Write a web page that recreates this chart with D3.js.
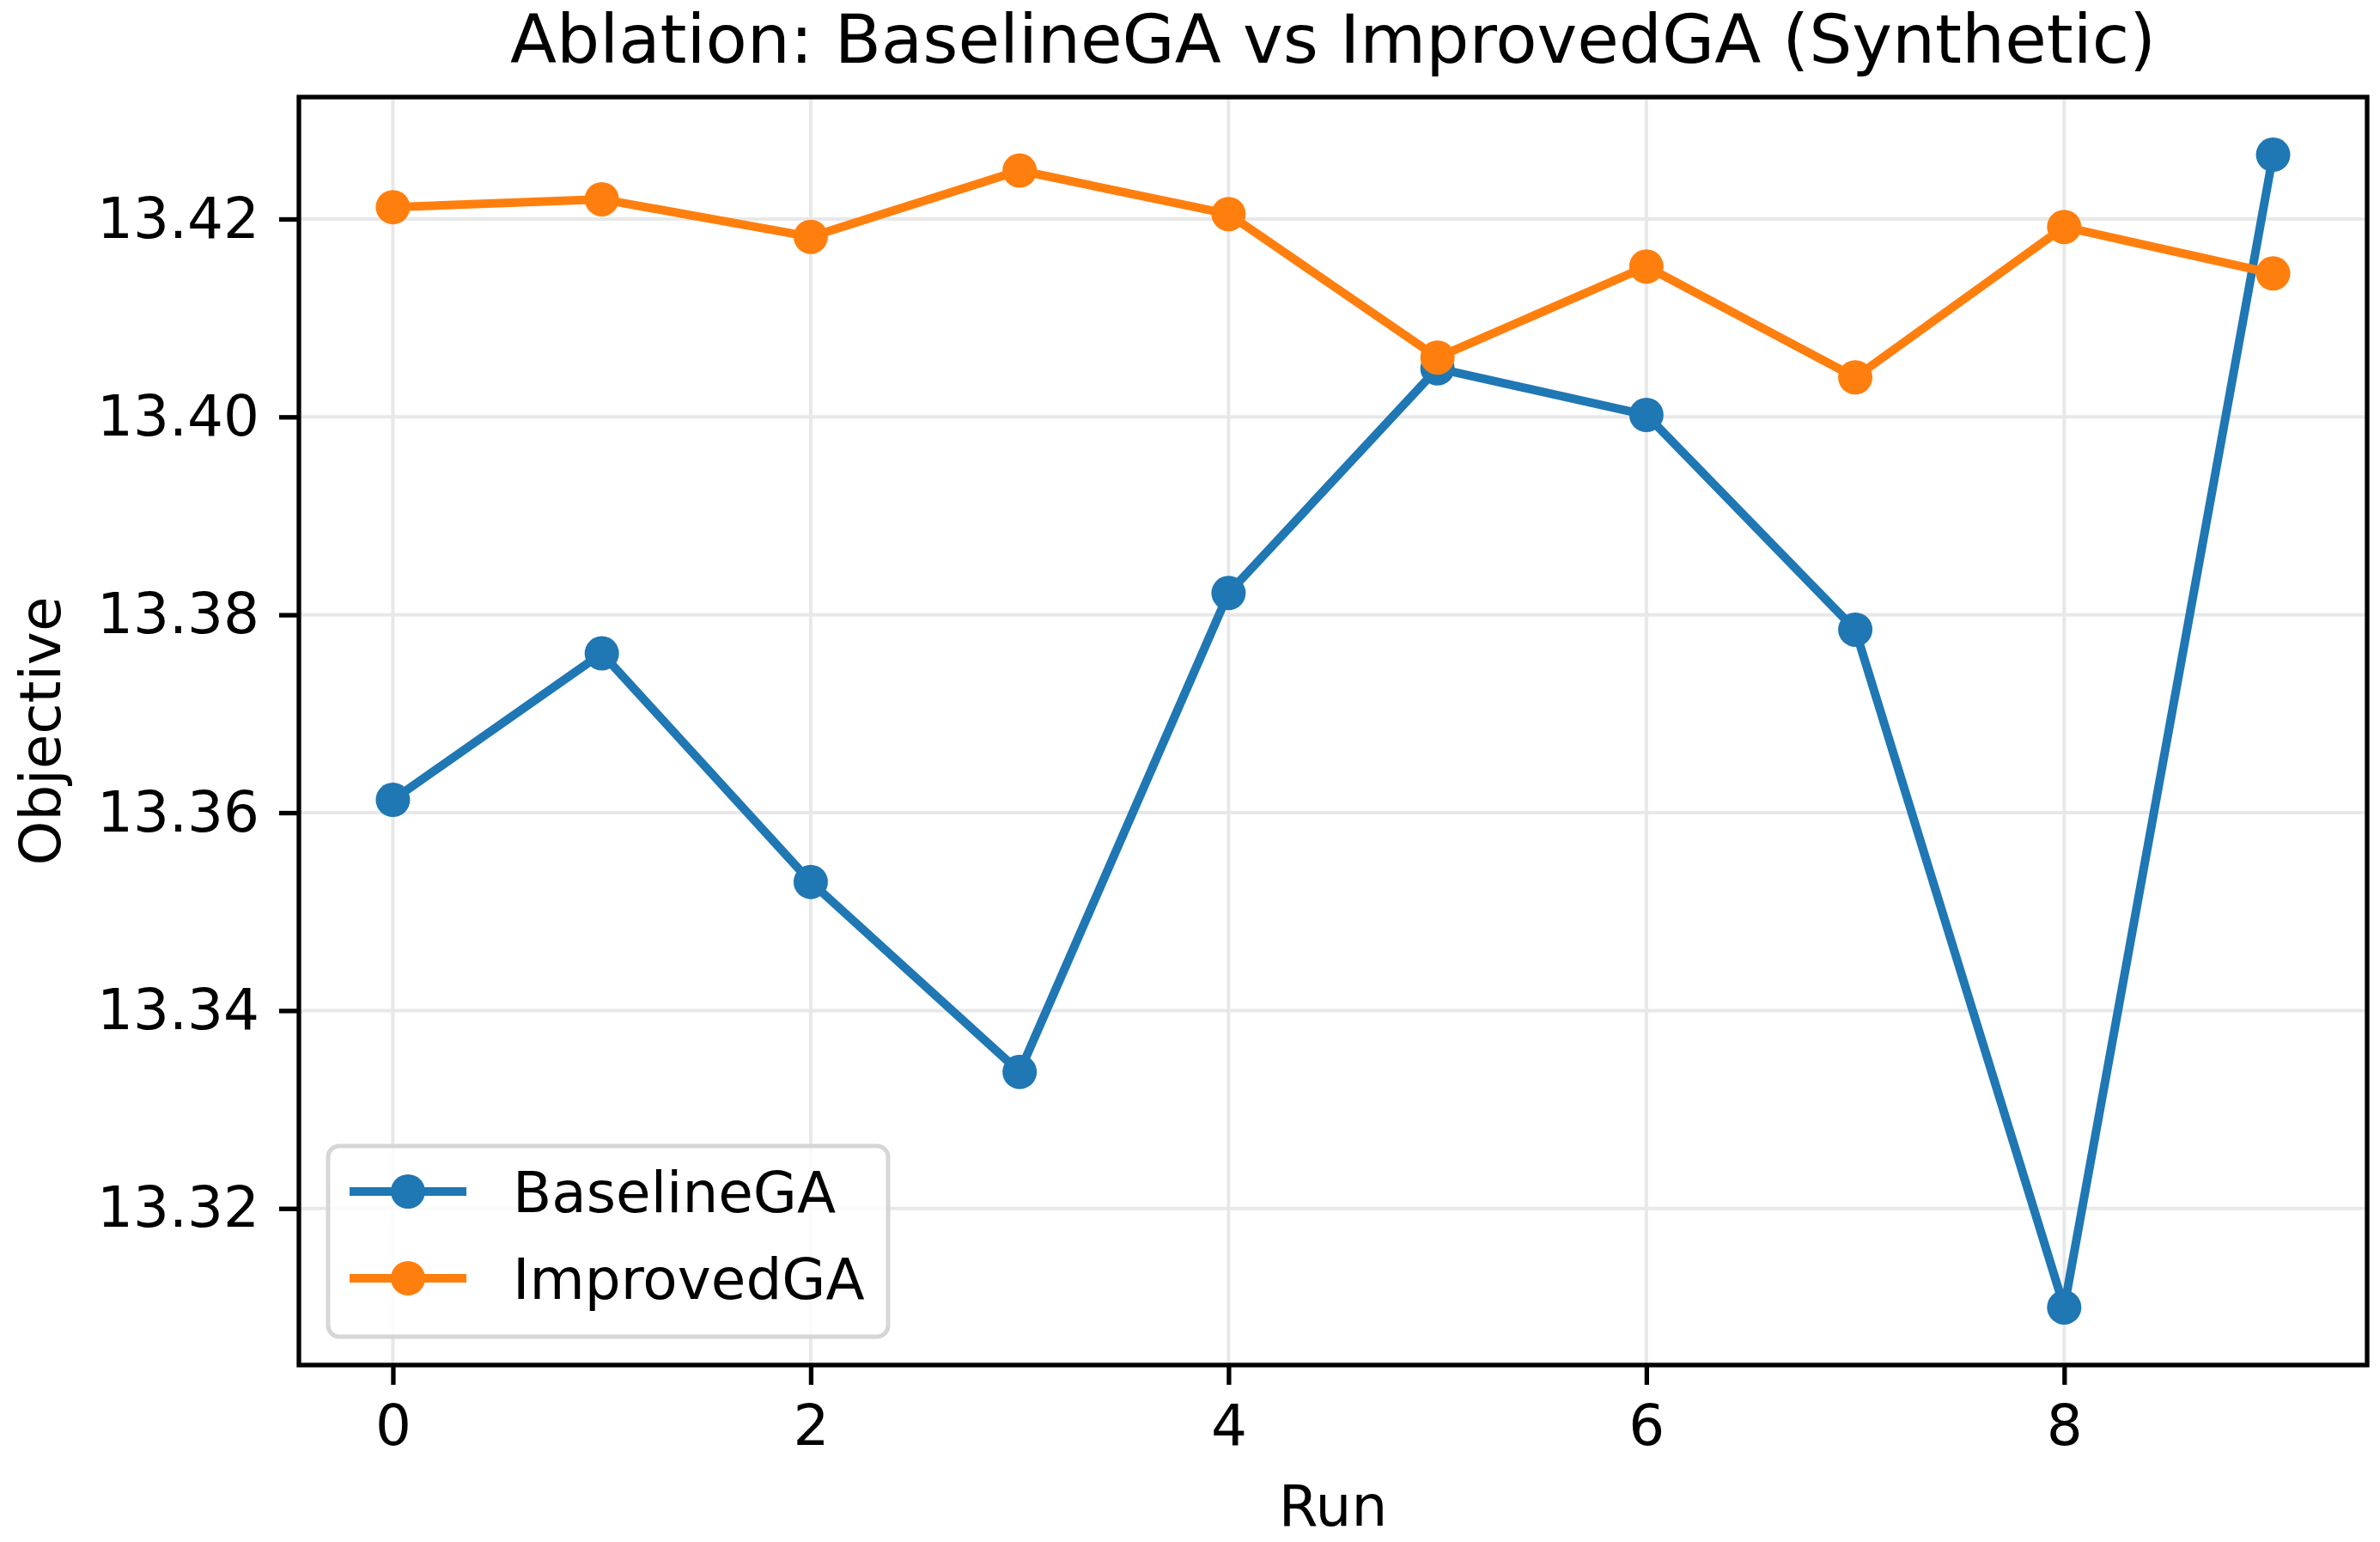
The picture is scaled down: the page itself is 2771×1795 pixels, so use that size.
<!DOCTYPE html>
<html>
<head>
<meta charset="utf-8">
<script src="https://cdn.jsdelivr.net/npm/d3@7"></script>
<style>
    body { margin: 0; background: #fff; }
    svg { display: block; }
</style>
</head>
<body>
<div id="chart"></div>
<script>
// values
var runs = [0, 1, 2, 3, 4, 5, 6, 7, 8, 9]
var baseline_ga = [13.3613, 13.3761, 13.3530, 13.3338, 13.3822, 13.4049, 13.4002, 13.3785, 13.3100, 13.4265]
var improved_ga = [13.4212, 13.4220, 13.4182, 13.4249, 13.4205, 13.4060, 13.4152, 13.4040, 13.4192, 13.4145]
var series_names = ["BaselineGA", "ImprovedGA"]
var series_colors = ["#1f77b4", "#ff7f0e"]
var x_ticks = [0, 2, 4, 6, 8]
var y_ticks = [13.32, 13.34, 13.36, 13.38, 13.40, 13.42]

var width = 2771
var height = 1795
// note: "top" is taken by window.top, so prefix these
var plot_left = 348, plot_right = 2756, plot_top = 113, plot_bottom = 1589
var font = "DejaVu Sans"
var fs = 66

const svg = d3.select("#chart")
    .append("svg")
    .attr("width", width)
    .attr("height", height)
    .style("font-family", font)

// matplotlib style 5% margins
var x = d3.scaleLinear()
    .domain([-0.45, 9.45])
    .range([plot_left, plot_right])

var y_min = d3.min(baseline_ga.concat(improved_ga))
var y_max = d3.max(baseline_ga.concat(improved_ga))
var pad = (y_max - y_min) * 0.05
var y = d3.scaleLinear()
    .domain([y_min - pad, y_max + pad])
    .range([plot_bottom, plot_top])

// grid
svg.append("g").selectAll("line")
    .data(x_ticks).join("line")
    .attr("x1", (d) => x(d)).attr("x2", (d) => x(d))
    .attr("y1", plot_top).attr("y2", plot_bottom)
    .attr("stroke", "#e8e8e8").attr("stroke-width", 4)

svg.append("g").selectAll("line")
    .data(y_ticks).join("line")
    .attr("y1", (d) => y(d)).attr("y2", (d) => y(d))
    .attr("x1", plot_left).attr("x2", plot_right)
    .attr("stroke", "#e8e8e8").attr("stroke-width", 4)

function addSeries(values, color) {
    var pts = runs.map((r, i) => [r, values[i]])
    var g = svg.append("g")
    g.append("path")
        .datum(pts)
        .attr("fill", "none")
        .attr("stroke", color)
        .attr("stroke-width", 10)
        .attr("stroke-linejoin", "round")
        .attr("d", d3.line()
            .x((d) => x(d[0]))
            .y((d) => y(d[1])))
    g.selectAll("circle")
        .data(pts).join("circle")
        .attr("cx", (d) => x(d[0]))
        .attr("cy", (d) => y(d[1]))
        .attr("r", 20)
        .attr("fill", color)
}

addSeries(baseline_ga, series_colors[0])
addSeries(improved_ga, series_colors[1])

// axes
var x_axis = d3.axisBottom(x).tickValues(x_ticks).tickFormat(d3.format("d")).tickSize(23).tickPadding(23)
var y_axis = d3.axisLeft(y).tickValues(y_ticks).tickFormat(d3.format(".2f")).tickSize(23).tickPadding(23)

var gx = svg.append("g")
    .attr("transform", "translate(0," + plot_bottom + ")")
    .call(x_axis)
var gy = svg.append("g")
    .attr("transform", "translate(" + plot_left + ",0)")
    .call(y_axis)

;[gx, gy].forEach((g) => {
    g.select(".domain").remove()
    g.selectAll(".tick line").attr("stroke", "#000").attr("stroke-width", 5.3)
    g.selectAll(".tick text")
        .attr("fill", "#000")
        .style("font-size", fs + "px")
        .style("font-family", font)
})

// spines
svg.append("rect")
    .attr("x", plot_left).attr("y", plot_top)
    .attr("width", plot_right - plot_left).attr("height", plot_bottom - plot_top)
    .attr("fill", "none")
    .attr("stroke", "#000")
    .attr("stroke-width", 5.3)

// title and labels
svg.append("text")
    .attr("x", (plot_left + plot_right) / 2)
    .attr("y", 73)
    .style("text-anchor", "middle")
    .style("font-size", "79px")
    .text("Ablation: BaselineGA vs ImprovedGA (Synthetic)")

svg.append("text")
    .attr("x", (plot_left + plot_right) / 2)
    .attr("y", 1776)
    .style("text-anchor", "middle")
    .style("font-size", fs + "px")
    .text("Run")

svg.append("text")
    .attr("transform", "translate(70," + ((plot_top + plot_bottom) / 2) + ") rotate(-90)")
    .style("text-anchor", "middle")
    .style("font-size", fs + "px")
    .text("Objective")

// legend, lower left
var legend = svg.append("g")
legend.append("rect")
    .attr("x", 382).attr("y", 1334)
    .attr("width", 652).attr("height", 222)
    .attr("rx", 13)
    .attr("fill", "#fff").attr("fill-opacity", 0.8)
    .attr("stroke", "#d6d6d6").attr("stroke-width", 5)

series_names.forEach((name, i) => {
    var cy = 1387 + i * 101
    legend.append("line")
        .attr("x1", 407).attr("x2", 543)
        .attr("y1", cy).attr("y2", cy)
        .attr("stroke", series_colors[i])
        .attr("stroke-width", 10)
    legend.append("circle")
        .attr("cx", 475).attr("cy", cy)
        .attr("r", 20)
        .attr("fill", series_colors[i])
    legend.append("text")
        .attr("x", 597).attr("y", cy + 24)
        .style("font-size", fs + "px")
        .text(name)
})
</script>
</body>
</html>
